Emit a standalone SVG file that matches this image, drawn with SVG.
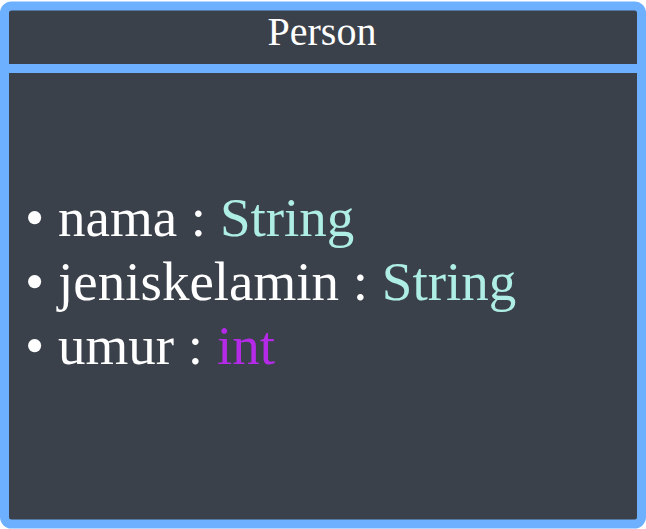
<svg xmlns="http://www.w3.org/2000/svg" width="646" height="529" viewBox="0 0 646 529">
<style>
.t{font-family:"Liberation Serif","Times New Roman",serif;fill:#ffffff}
.s{fill:#aeeee5}
.i{fill:#b52ae8}
</style>
<rect width="646" height="529" fill="#ffffff"/>
<g id="person">
<rect x="4.5" y="6" width="637" height="518" rx="7" fill="#3b414b" stroke="#6db0ff" stroke-width="9"/>
<line x1="4" y1="68.5" x2="642" y2="68.5" stroke="#6db0ff" stroke-width="9"/>
<text class="t" x="322" y="45" font-size="40" text-anchor="middle">Person</text>
<text class="t" x="25" y="236" font-size="55">• nama : <tspan class="s">String</tspan></text>
<text class="t" x="25" y="300" font-size="55">• jeniskelamin : <tspan class="s">String</tspan></text>
<text class="t" x="25" y="364" font-size="55">• umur : <tspan class="i">int</tspan></text>
</g>
</svg>
